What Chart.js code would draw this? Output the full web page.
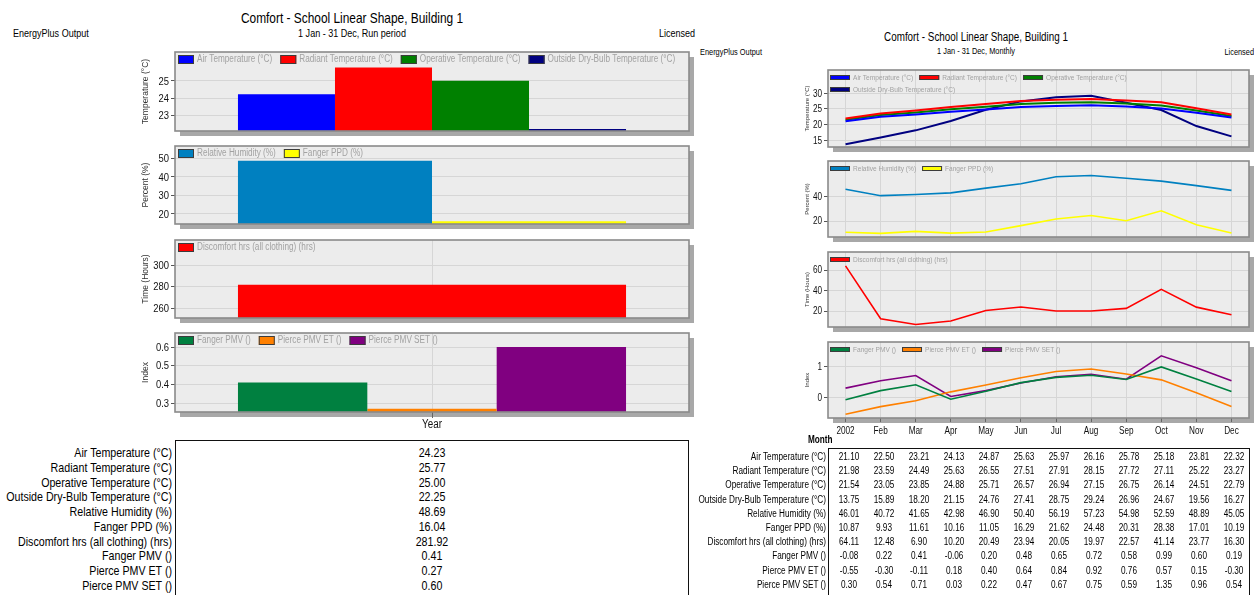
<!DOCTYPE html>
<html>
<head>
<meta charset="utf-8">
<title>Comfort - School Linear Shape, Building 1</title>
<script src="https://cdn.jsdelivr.net/npm/chart.js@4.4.1/dist/chart.umd.min.js"></script>
<style>
  html, body { margin: 0; padding: 0; background: #fff; }
  body { width: 1254px; height: 595px; position: relative; overflow: hidden;
         font-family: "Liberation Sans", Arial, sans-serif; color: #000; }
  canvas { position: absolute; }
  .t { position: absolute; white-space: nowrap; line-height: 1; }
  .box { position: absolute; border: 1px solid #111; box-sizing: border-box; background: #fff; }
</style>
</head>
<body>
<script>
const SANS = '"Liberation Sans", Arial, sans-serif';
const NARROW_SCALE = 0.82;   // horizontal squeeze giving a narrow-face look

// ---- Run-period (annual) values ----
const periodLabels = ['Year'];
const tempNames = ['Air Temperature (°C)', 'Radiant Temperature (°C)', 'Operative Temperature (°C)', 'Outside Dry-Bulb Temperature (°C)'];
const percentNames = ['Relative Humidity (%)', 'Fanger PPD (%)'];
const discomfortNames = ['Discomfort hrs (all clothing) (hrs)'];
const indexNames = ['Fanger PMV ()', 'Pierce PMV ET ()', 'Pierce PMV SET ()'];

const periodTemperature = [24.23, 25.77, 25.00, 22.25];
const periodPercent = [48.69, 16.04];
const periodDiscomfort = [281.92];
const periodIndex = [0.41, 0.27, 0.60];

// ---- Monthly values ----
const monthLabels = ['2002', 'Feb', 'Mar', 'Apr', 'May', 'Jun', 'Jul', 'Aug', 'Sep', 'Oct', 'Nov', 'Dec'];
const airTemp     = [21.10, 22.50, 23.21, 24.13, 24.87, 25.63, 25.97, 26.16, 25.78, 25.18, 23.81, 22.32];
const radiantTemp = [21.98, 23.59, 24.49, 25.63, 26.55, 27.51, 27.91, 28.15, 27.72, 27.11, 25.22, 23.27];
const operTemp    = [21.54, 23.05, 23.85, 24.88, 25.71, 26.57, 26.94, 27.15, 26.75, 26.14, 24.51, 22.79];
const outsideTemp = [13.75, 15.89, 18.20, 21.15, 24.76, 27.41, 28.75, 29.24, 26.96, 24.67, 19.56, 16.27];
const relHumidity = [46.01, 40.72, 41.65, 42.98, 46.90, 50.40, 56.19, 57.23, 54.98, 52.59, 48.89, 45.05];
const fangerPPD   = [10.87, 9.93, 11.61, 10.16, 11.05, 16.29, 21.62, 24.48, 20.31, 28.38, 17.01, 10.19];
const discomfort  = [64.11, 12.48, 6.90, 10.20, 20.49, 23.94, 20.05, 19.97, 22.57, 41.14, 23.77, 16.30];
const fangerPMV   = [-0.08, 0.22, 0.41, -0.06, 0.20, 0.48, 0.65, 0.72, 0.58, 0.99, 0.60, 0.19];
const pierceET    = [-0.55, -0.30, -0.11, 0.18, 0.40, 0.64, 0.84, 0.92, 0.76, 0.57, 0.15, -0.30];
const pierceSET   = [0.30, 0.54, 0.71, 0.03, 0.22, 0.47, 0.67, 0.75, 0.59, 1.35, 0.96, 0.54];

// ---- Axis tick labels ----
const periodTempTicks = [23, 24, 25];
const periodPercentTicks = [20, 30, 40, 50];
const periodHoursTicks = [260, 280, 300];
const periodIndexTicks = [0.3, 0.4, 0.5, 0.6];
const monthTempTicks = [15, 20, 25, 30];
const monthPercentTicks = [20, 40];
const monthHoursTicks = [20, 40, 60];
const monthIndexTicks = [0, 1];

// ---- Series colours ----
const tempColors = ['#0000ff', '#ff0000', '#008000', '#000080'];
const percentColors = ['#0080c0', '#ffff00'];
const discomfortColors = ['#ff0000'];
const indexColors = ['#008040', '#ff8000', '#800080'];

// Draw a squeezed text run anchored at (x, y) with the given alignment.
function narrowText(ctx, str, x, y, align) {
  const w = ctx.measureText(str).width * NARROW_SCALE;
  const x0 = align === 'right' ? x - w : align === 'center' ? x - w / 2 : x;
  ctx.save();
  ctx.translate(x0, y);
  ctx.scale(NARROW_SCALE, 1);
  ctx.textAlign = 'left';
  ctx.fillText(str, 0, 0);
  ctx.restore();
  return w;
}

// ---- Plugins: framed plot area with drop shadow, in-plot legend, narrow tick labels ----
const panelFrame = {
  id: 'panelFrame',
  beforeDraw(chart) {
    const { ctx, chartArea: a } = chart;
    ctx.save();
    ctx.fillStyle = '#a8a8a8';
    ctx.fillRect(a.left + 5, a.top + 5, a.right - a.left, a.bottom - a.top);
    ctx.fillStyle = '#ececec';
    ctx.fillRect(a.left, a.top, a.right - a.left, a.bottom - a.top);
    ctx.restore();
  },
  afterDatasetsDraw(chart) {
    const { ctx, chartArea: a } = chart;
    ctx.save();
    ctx.strokeStyle = '#8a8a8a';
    ctx.lineWidth = 1.6;
    ctx.strokeRect(a.left, a.top, a.right - a.left, a.bottom - a.top);
    ctx.restore();
  }
};

const panelLegend = {
  id: 'panelLegend',
  afterDraw(chart, args, o) {
    if (!o || !o.size) return;
    const { ctx, chartArea: a } = chart;
    ctx.save();
    ctx.font = o.size + 'px ' + SANS;
    ctx.textBaseline = 'middle';
    let x = a.left + o.x0, y = a.top + o.y0;
    chart.data.datasets.forEach(ds => {
      const tw = ctx.measureText(ds.label).width * NARROW_SCALE;
      const w = o.iconW + o.iconGap + tw;
      if (x + w > a.right - 2 && x > a.left + o.x0) { x = a.left + o.x0; y += o.rowH; }
      const col = chart.config.type === 'bar' ? ds.backgroundColor : ds.borderColor;
      const top = Math.round(y - o.iconH / 2);
      ctx.fillStyle = col;
      ctx.fillRect(x, top, o.iconW, o.iconH);
      ctx.strokeStyle = '#3c3c3c';
      ctx.lineWidth = 1;
      ctx.strokeRect(x + 0.5, top + 0.5, o.iconW - 1, o.iconH - 1);
      ctx.fillStyle = '#a2a2a2';
      narrowText(ctx, ds.label, x + o.iconW + o.iconGap, y + 0.5, 'left');
      x += w + o.itemGap;
    });
    ctx.restore();
  }
};

const narrowTicks = {
  id: 'narrowTicks',
  afterDraw(chart, args, o) {
    const { ctx, chartArea: a, scales } = chart;
    ctx.save();
    ctx.fillStyle = '#111';
    ctx.textBaseline = 'middle';
    ctx.font = o.ySize + 'px ' + SANS;
    scales.y.ticks.forEach(t => {
      narrowText(ctx, String(t.value), a.left - 6, scales.y.getPixelForValue(t.value) + 0.5, 'right');
    });
    if (o.xSize) {
      ctx.font = o.xSize + 'px ' + SANS;
      chart.data.labels.forEach((lab, i) => {
        narrowText(ctx, lab, scales.x.getPixelForValue(i), a.bottom + o.xOffset, 'center');
      });
    }
    ctx.restore();
  }
};

function panel(o) {
  const padT = 4, padR = 10, padB = o.xH ? 2 : 10;
  const W = o.frame.r + padR - o.left;
  const H = (o.frame.b - o.frame.t) + padT + o.xH + padB;
  const cv = document.createElement('canvas');
  cv.width = W; cv.height = H;
  cv.style.left = o.left + 'px';
  cv.style.top = (o.frame.t - padT) + 'px';
  cv.style.width = W + 'px';
  cv.style.height = H + 'px';
  document.body.appendChild(cv);

  return new Chart(cv, {
    type: o.type,
    data: { labels: o.labels, datasets: o.datasets },
    plugins: [panelFrame, panelLegend, narrowTicks],
    options: {
      responsive: false,
      animation: false,
      devicePixelRatio: 1,
      layout: { padding: { left: 0, top: padT, right: padR, bottom: padB } },
      plugins: {
        legend: { display: false }, tooltip: { enabled: false },
        panelLegend: o.legend,
        narrowTicks: { ySize: o.tickSize, xSize: o.xH ? o.xTickSize : 0, xOffset: o.xOffset || 0 }
      },
      datasets: { bar: { barPercentage: 1, categoryPercentage: 0.755 } },
      scales: {
        x: {
          type: 'category',
          offset: true,
          grid: { display: o.xGrid, offset: false, color: '#d6d6d6', lineWidth: 1,
                  drawTicks: !!o.xH, tickLength: o.xTickLen || 4, tickColor: '#666' },
          border: { display: false },
          ticks: { display: false, autoSkip: false, maxRotation: 0 },
          afterFit: s => { s.height = o.xH; }
        },
        y: {
          min: o.min, max: o.max,
          afterBuildTicks: s => { s.ticks = o.ticks.map(v => ({ value: v })); },
          grid: { color: '#d6d6d6', lineWidth: 1, tickLength: 4, tickColor: '#555' },
          border: { display: false },
          ticks: { display: false },
          title: { display: true, text: o.title, color: '#333',
                   font: { family: SANS, size: o.titleSize },
                   padding: { top: o.titlePad, bottom: 0 } },
          afterFit: s => { s.width = o.frame.l - o.left; }
        }
      }
    }
  });
}

function barSets(names, values, colors) {
  return names.map((n, i) => ({ label: n, data: [values[i]], backgroundColor: colors[i], borderWidth: 0 }));
}
function lineSets(names, series, colors, width) {
  return names.map((n, i) => ({ label: n, data: series[i], borderColor: colors[i], backgroundColor: colors[i],
                                borderWidth: width, pointRadius: 0, tension: 0, fill: false }));
}

// Page text, squeezed horizontally about its anchor point.
function text(str, x, y, size, align, extra) {
  const d = document.createElement('div');
  d.className = 't';
  d.textContent = str;
  d.style.fontSize = size + 'px';
  d.style.left = x + 'px';
  d.style.top = y + 'px';
  const tx = align === 'center' ? '-50%' : align === 'right' ? '-100%' : '0';
  const ox = align === 'center' ? '50%' : align === 'right' ? '100%' : '0';
  d.style.transformOrigin = ox + ' 50%';
  d.style.transform = 'translate(' + tx + ',-50%) scaleX(' + NARROW_SCALE + ')';
  if (extra) Object.assign(d.style, extra);
  document.body.appendChild(d);
  return d;
}

// ---- Headers ----
text('Comfort - School Linear Shape, Building 1', 352, 18, 14.5, 'center');
text('1 Jan - 31 Dec, Run period', 352, 33, 11, 'center');
text('EnergyPlus Output', 13, 33, 11, 'left');
text('Licensed', 695, 33, 11, 'right');

text('Comfort - School Linear Shape, Building 1', 976, 37, 12, 'center');
text('1 Jan - 31 Dec, Monthly', 976, 51, 9, 'center');
text('EnergyPlus Output', 700, 52, 9, 'left');
text('Licensed', 1254, 52, 9, 'right');

// ---- Run-period bar panels ----
const leftBase = { type: 'bar', left: 128, labels: periodLabels, tickSize: 11.5, titleSize: 8.5, titlePad: 13,
  legend: { size: 10, x0: 3, y0: 7, iconW: 16, iconH: 9, iconGap: 3, itemGap: 8, rowH: 12 } };

panel(Object.assign({}, leftBase, {
  frame: { l: 175, t: 52, r: 689, b: 131 }, xH: 0, xGrid: false,
  datasets: barSets(tempNames, periodTemperature, tempColors),
  min: 22.13, max: 26.65, ticks: periodTempTicks, title: 'Temperature (°C)'
}));
panel(Object.assign({}, leftBase, {
  frame: { l: 175, t: 146, r: 689, b: 224 }, xH: 0, xGrid: false,
  datasets: barSets(percentNames, periodPercent, percentColors),
  min: 14.6, max: 56.6, ticks: periodPercentTicks, title: 'Percent (%)'
}));
panel(Object.assign({}, leftBase, {
  frame: { l: 175, t: 240, r: 689, b: 318 }, xH: 0, xGrid: true,
  datasets: barSets(discomfortNames, periodDiscomfort, discomfortColors),
  min: 250.6, max: 324, ticks: periodHoursTicks, title: 'Time (Hours)'
}));
const leftIndex = panel(Object.assign({}, leftBase, {
  frame: { l: 175, t: 333, r: 689, b: 412 }, xH: 22, xGrid: true, xTickLen: 6, xTickSize: 12, xOffset: 13,
  datasets: barSets(indexNames, periodIndex, indexColors),
  min: 0.252, max: 0.675, ticks: periodIndexTicks, title: 'Index'
}));

// ---- Monthly line panels ----
const rightBase = { type: 'line', left: 790, labels: monthLabels, tickSize: 10, titleSize: 6, titlePad: 13.4, xGrid: true,
  legend: { size: 8, x0: 2, y0: 7, iconW: 20, iconH: 5, iconGap: 3, itemGap: 6, rowH: 12 } };

panel(Object.assign({}, rightBase, {
  frame: { l: 828, t: 70, r: 1249, b: 147 }, xH: 0,
  datasets: lineSets(tempNames, [airTemp, radiantTemp, operTemp, outsideTemp], tempColors, 2),
  min: 12.9, max: 37.4, ticks: monthTempTicks, title: 'Temperature (°C)'
}));
panel(Object.assign({}, rightBase, {
  frame: { l: 828, t: 161, r: 1249, b: 237 }, xH: 0,
  datasets: lineSets(percentNames, [relHumidity, fangerPPD], percentColors, 1.6),
  min: 7, max: 69, ticks: monthPercentTicks, title: 'Percent (%)'
}));
panel(Object.assign({}, rightBase, {
  frame: { l: 828, t: 252, r: 1249, b: 327 }, xH: 0,
  datasets: lineSets(discomfortNames, [discomfort], discomfortColors, 1.6),
  min: 4.4, max: 77.6, ticks: monthHoursTicks, title: 'Time (Hours)'
}));
const rightIndex = panel(Object.assign({}, rightBase, {
  frame: { l: 828, t: 342, r: 1249, b: 418 }, xH: 20, xTickLen: 4, xTickSize: 10, xOffset: 13,
  datasets: lineSets(indexNames, [fangerPMV, pierceET, pierceSET], indexColors, 1.6),
  min: -0.67, max: 1.8, ticks: monthIndexTicks, title: 'Index'
}));

// ---- Value tables ----
const rowNames = tempNames.concat(percentNames, discomfortNames, indexNames);
const periodRows = periodTemperature.concat(periodPercent, periodDiscomfort, periodIndex);
const monthRows = [airTemp, radiantTemp, operTemp, outsideTemp, relHumidity, fangerPPD,
                   discomfort, fangerPMV, pierceET, pierceSET];

const lb = document.createElement('div');
lb.className = 'box';
Object.assign(lb.style, { left: '175px', top: '440px', width: '514px', height: '156px' });
document.body.appendChild(lb);

const leftCanvasLeft = 128;
const periodX = leftCanvasLeft + leftIndex.scales.x.getPixelForValue(0);
rowNames.forEach((n, r) => {
  const y = 452 + r * 14.78;
  text(n, 172, y, 13, 'right');
  text(periodRows[r].toFixed(2), periodX, y, 13, 'center');
});

const rb = document.createElement('div');
rb.className = 'box';
Object.assign(rb.style, { left: '828px', top: '448px', width: '422px', height: '148px' });
document.body.appendChild(rb);

text('Month', 808, 440, 10, 'left', { fontWeight: 'bold' });

const rightCanvasLeft = 790;
rowNames.forEach((n, r) => {
  const y = 457 + r * 14.2;
  text(n, 826, y, 10, 'right');
  monthRows[r].forEach((v, c) => {
    const x = rightCanvasLeft + rightIndex.scales.x.getPixelForValue(c) + 3;
    text(v.toFixed(2), x, y, 10, 'center');
  });
});
</script>
</body>
</html>
